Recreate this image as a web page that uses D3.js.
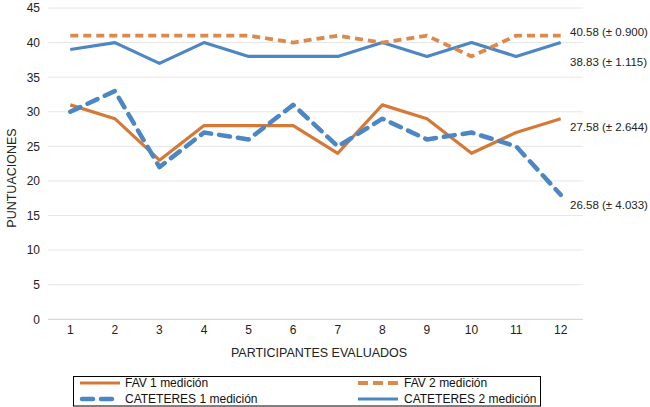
<!DOCTYPE html>
<html><head><meta charset="utf-8">
<script src="https://cdn.jsdelivr.net/npm/d3@7"></script>
<style>body{margin:0;background:#fff}svg{display:block;font-family:"Liberation Sans",Arial,sans-serif}</style>
</head><body><svg id="c" width="650" height="407"></svg>
<script>
const participants = [1,2,3,4,5,6,7,8,9,10,11,12];
const fav1 = [31,29,23,28,28,28,24,31,29,24,27,29];
const fav2 = [41,41,41,41,41,40,41,40,41,38,41,41];
const cat1 = [30,33,22,27,26,31,25,29,26,27,25,18];
const cat2 = [39,40,37,40,38,38,38,40,38,40,38,40];
const yTicks = [0,5,10,15,20,25,30,35,40,45];
const endLabels = ["40.58 (± 0.900)","38.83 (± 1.115)","27.58 (± 2.644)","26.58 (± 4.033)"];
const endLabelValues = [40.58, 38.83, 27.58, 18];

const ORANGE="#D57A36", ORANGE2="#DB8A4C", BLUE="#4C86C3";
const series = [
  {name:"FAV 1 medición", values:fav1, color:ORANGE, width:3.2, dash:null, cap:"butt"},
  {name:"FAV 2 medición", values:fav2, color:ORANGE2, width:3.8, dash:"8,5", cap:"butt"},
  {name:"CATETERES 1 medición", values:cat1, color:BLUE, width:4.5, dash:"11,8", cap:"round"},
  {name:"CATETERES 2 medición", values:cat2, color:BLUE, width:3.2, dash:null, cap:"butt"}
];

const svg=d3.select("#c");
const x=d3.scaleBand().domain(participants).range([48,583]);
const y=d3.scaleLinear().domain([0,45]).range([319.3,8]);

const grid=svg.append("g");
grid.selectAll("line").data(yTicks).join("line")
  .attr("x1",48).attr("x2",583).attr("y1",d=>y(d)).attr("y2",d=>y(d))
  .attr("stroke",d=>d===0?"#cfcfcf":"#e6e6e6").attr("stroke-width",1);

const yAxis=svg.append("g").attr("transform","translate(40,0)")
  .call(d3.axisLeft(y).tickValues(yTicks).tickSize(0).tickPadding(0));
yAxis.select(".domain").remove();
yAxis.selectAll("text").attr("font-size",12).attr("fill","#222").attr("font-family","Liberation Sans, Arial, sans-serif");

const xAxis=svg.append("g").attr("transform","translate(0,322)")
  .call(d3.axisBottom(x).tickSize(0).tickPadding(3));
xAxis.select(".domain").remove();
xAxis.selectAll("text").attr("font-size",12).attr("fill","#222").attr("font-family","Liberation Sans, Arial, sans-serif");

svg.append("text").attr("x",319).attr("y",357).attr("text-anchor","middle")
  .attr("font-size",12.5).attr("fill","#222").text("PARTICIPANTES EVALUADOS");
svg.append("text").attr("transform","translate(16,178) rotate(-90)").attr("text-anchor","middle")
  .attr("font-size",12.5).attr("fill","#222").text("PUNTUACIONES");

const line=d3.line().x((d,i)=>x(participants[i])+x.bandwidth()/2).y(d=>y(d));
const drawOrder=[3,1,0,2];
drawOrder.forEach(k=>{
  const s=series[k];
  svg.append("path").attr("d",line(s.values)).attr("fill","none")
    .attr("stroke",s.color).attr("stroke-width",s.width)
    .attr("stroke-dasharray",s.dash).attr("stroke-linecap",s.cap).attr("stroke-linejoin","round");
});

const labelDy=[-2.4, 15.5, 2.6, 14];
svg.selectAll("text.end").data(endLabels).join("text").attr("class","end")
  .attr("x",570).attr("y",(d,i)=>y(endLabelValues[i])+labelDy[i]).attr("font-size",11.5).attr("fill","#222").text(d=>d);

// legend
const lg=svg.append("g");
lg.append("rect").attr("x",73.5).attr("y",376.5).attr("width",467).attr("height",29.5)
  .attr("fill","#fff").attr("stroke","#000").attr("stroke-width",1);
const legPos=[{x:80,y:383},{x:358,y:383},{x:80,y:399},{x:358,y:399}];
series.forEach((s,i)=>{
  const p=legPos[i];
  lg.append("line").attr("x1",p.x+(s.cap==="round"?2:0)).attr("x2",p.x+40-(s.cap==="round"?2:0)).attr("y1",p.y).attr("y2",p.y)
    .attr("stroke",s.color).attr("stroke-width",s.width).attr("stroke-dasharray",s.dash==="11,8"?"11,8":(s.dash?"10,5":null))
    .attr("stroke-linecap",s.cap);
  lg.append("text").attr("x",p.x+(i%2===0?45:46)).attr("y",p.y+4).attr("font-size",12).attr("fill","#111").text(s.name);
});
</script></body></html>
